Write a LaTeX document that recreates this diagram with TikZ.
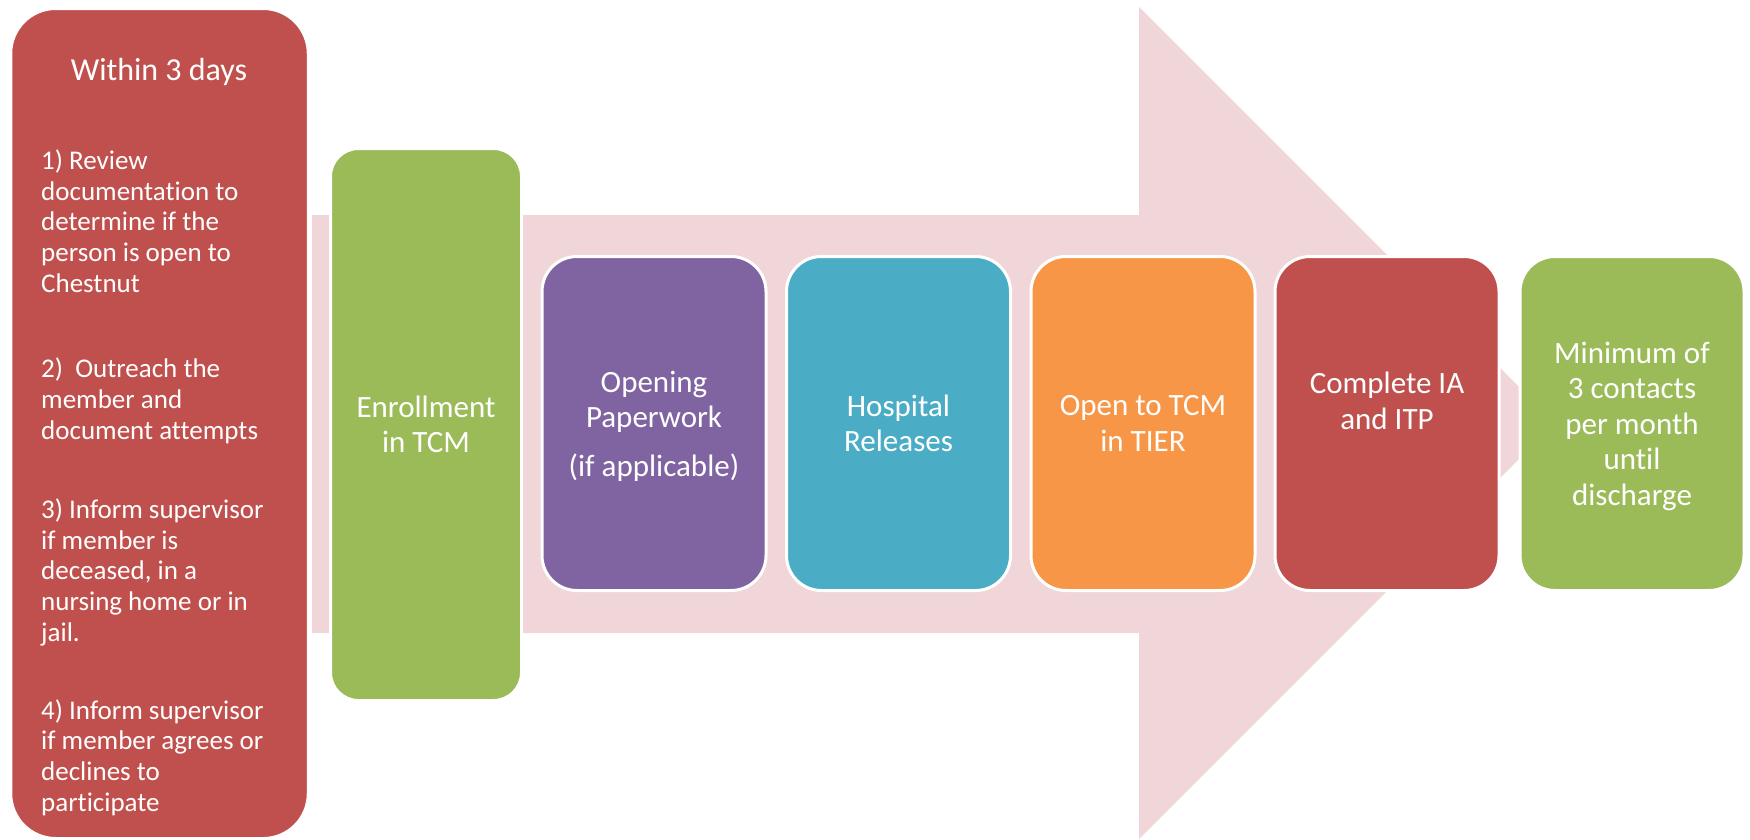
\documentclass[tikz,border=0pt]{standalone}
\usepackage{fontspec}
\setmainfont{Carlito}[Ligatures=NoCommon]
\definecolor{accred}{HTML}{C0504D}
\definecolor{accgreen}{HTML}{9BBB59}
\definecolor{accpurple}{HTML}{8064A2}
\definecolor{accblue}{HTML}{4BACC6}
\definecolor{accorange}{HTML}{F79646}
\definecolor{arrowpink}{RGB}{240,213,217}

\begin{document}
\begin{tikzpicture}[x=1pt,y=-1pt,
  card/.style={rounded corners=#1, draw=white, line width=3pt, inner sep=0pt},
  stage/.style={card=35pt, minimum width=224pt, minimum height=334pt},
  % multi-line nodes: the base anchor sits on the last line's baseline
  para/.style={text=white, align=left, inner sep=0pt, anchor=base west,
               font=\fontsize{27}{30.6}\selectfont},
  lbl/.style={text=white, align=center, inner sep=0pt,
              font=\fontsize{31}{35.5}\selectfont}]
\useasboundingbox (0,0) rectangle (1750,839);

% wide background arrow
\fill[arrowpink] (312,215) -- (1139,215) -- (1139,7) -- (1555,423)
  -- (1139,839) -- (1139,633) -- (312,633) -- cycle;

% left column and enrollment box
\node[card=45pt, fill=accred, minimum width=297.5pt, minimum height=830pt]
  (within) at (159.5,423.5) {};
\node[card=28pt, fill=accgreen, minimum width=191pt, minimum height=552pt]
  (enroll) at (426,424.5) {};

% process stages on the arrow
\node[stage, fill=accpurple] (paper)   at (654,423.5)  {};
\node[stage, fill=accblue]   (release) at (898.5,423.5) {};
\node[stage, fill=accorange] (tier)    at (1143,423.5) {};
\node[stage, fill=accred]    (assess)  at (1387,423.5) {};
\node[stage, fill=accgreen]  (contact) at (1632,423.5) {};

% left column text
\node[lbl, anchor=base, font=\fontsize{32}{36}\selectfont] (daysttl) at (159,80) {Within 3 days};
\node[para] (stepa) at (41,292) {1) Review\\documentation to\\determine if the\\person is open to\\Chestnut};
\node[para] (stepb) at (41,439) {2)~~Outreach the\\member and\\document attempts};
\node[para] (stepc) at (41,641) {3) Inform supervisor\\if member is\\deceased, in a\\nursing home or in\\jail.};
\node[para] (stepd) at (41,811) {4) Inform supervisor\\if member agrees or\\declines to\\participate};

% box labels
\node[lbl] (enrolltxt)  at (enroll.center)  {Enrollment\\in TCM};
\node[lbl] (papertxt)   at (654,426)        {Opening\\Paperwork\\[13pt](if applicable)};
\node[lbl] (releasetxt) at (release.center) {Hospital\\Releases};
\node[lbl] (tiertxt)    at (tier.center)    {Open to TCM\\in TIER};
\node[lbl] (assesstxt)  at (1387,401)       {Complete IA\\and ITP};
\node[lbl] (contacttxt) at (1632,426)       {Minimum of\\3 contacts\\per month\\until\\discharge};
\end{tikzpicture}
\end{document}
